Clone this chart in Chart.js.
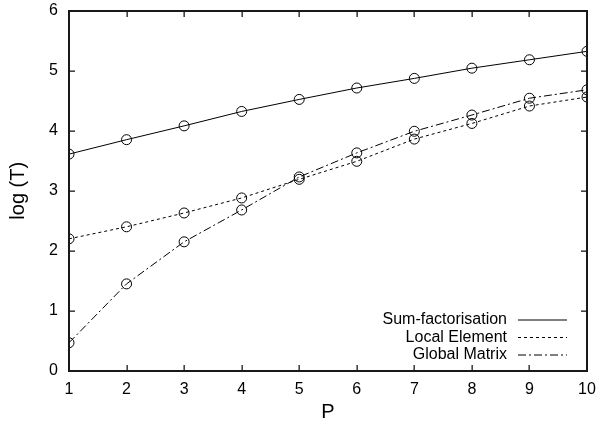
<!DOCTYPE html>
<html>
<head>
<meta charset="utf-8">
<script src="https://cdn.jsdelivr.net/npm/chart.js@4"></script>
<style>
html,body{margin:0;padding:0;background:#fff;}
#wrap{width:602px;height:424px;}
</style>
</head>
<body>
<div id="wrap"><canvas id="c" width="602" height="424"></canvas></div>
<script>
const P = [1, 2, 3, 4, 5, 6, 7, 8, 9, 10];
const sumFactorisation = [3.61, 3.85, 4.08, 4.32, 4.52, 4.71, 4.87, 5.04, 5.18, 5.32];
const localElement = [2.20, 2.40, 2.63, 2.88, 3.19, 3.49, 3.86, 4.12, 4.41, 4.56];
const globalMatrix = [0.47, 1.45, 2.15, 2.68, 3.23, 3.63, 3.99, 4.26, 4.54, 4.68];
const seriesLabels = ['Sum-factorisation', 'Local Element', 'Global Matrix'];
const xTicks = [1, 2, 3, 4, 5, 6, 7, 8, 9, 10];
const yTicks = [0, 1, 2, 3, 4, 5, 6];

const FONT = "'Liberation Sans', Arial, Helvetica, sans-serif";

function toPts(ys) { return P.map((x, i) => ({x: x, y: ys[i]})); }

function ds(label, ys, dash) {
  return {
    label: label,
    data: toPts(ys),
    borderColor: '#000',
    backgroundColor: 'rgba(0,0,0,0)',
    borderWidth: 1,
    borderDash: dash,
    pointStyle: 'circle',
    pointRadius: 5,
    pointBorderWidth: 1,
    pointBorderColor: '#000',
    pointBackgroundColor: 'rgba(0,0,0,0)',
    tension: 0,
    fill: false
  };
}

const framePlugin = {
  id: 'frame',
  afterDraw(chart) {
    const ctx = chart.ctx;
    const xs = chart.scales.x, ys = chart.scales.y;
    const L = Math.round(xs.getPixelForValue(xs.min)), R = Math.round(xs.getPixelForValue(xs.max));
    const B = Math.round(ys.getPixelForValue(ys.min)), T = Math.round(ys.getPixelForValue(ys.max));
    ctx.save();
    ctx.setLineDash([]);
    ctx.globalAlpha = 1;
    ctx.globalCompositeOperation = 'source-over';
    ctx.fillStyle = 'rgb(25,25,25)';
    const w = 2, tl = 6;
    ctx.fillRect(L - 1, T - 1, R - L + w, w);
    ctx.fillRect(L - 1, B - 1, R - L + w, w);
    ctx.fillRect(L - 1, T - 1, w, B - T + w);
    ctx.fillRect(R - 1, T - 1, w, B - T + w);
    xTicks.forEach(v => {
      const px = Math.round(xs.getPixelForValue(v));
      ctx.fillRect(px - 0.5, B - tl, 1.3, tl);
      ctx.fillRect(px - 0.5, T, 1.3, tl);
    });
    yTicks.forEach(v => {
      const py = Math.round(ys.getPixelForValue(v));
      ctx.fillRect(L, py - 0.5, tl, 1.3);
      ctx.fillRect(R - tl, py - 0.5, tl, 1.3);
    });

    // legend (text then line sample), bottom right inside plot
    ctx.font = '16px ' + FONT;
    ctx.fillStyle = '#000';
    ctx.strokeStyle = '#000';
    ctx.textAlign = 'right';
    ctx.textBaseline = 'middle';
    const textRight = 507, lineL = 518, lineR = 567;
    const rowY = [320, 337.5, 355];
    chart.data.datasets.forEach((d, i) => {
      const y = rowY[i];
      ctx.fillText(d.label, textRight, y);
      ctx.beginPath();
      ctx.lineWidth = 1;
      ctx.setLineDash(d.borderDash || []);
      ctx.moveTo(lineL, y); ctx.lineTo(lineR, y);
      ctx.stroke();
    });
    ctx.restore();
  }
};

new Chart(document.getElementById('c'), {
  type: 'line',
  data: {
    datasets: [
      ds(seriesLabels[0], sumFactorisation, []),
      ds(seriesLabels[1], localElement, [3, 3]),
      ds(seriesLabels[2], globalMatrix, [8, 3, 2, 3])
    ]
  },
  options: {
    responsive: false,
    animation: false,
    events: [],
    layout: {padding: {left: 0, right: 15, top: 10.5, bottom: 0}},
    plugins: {legend: {display: false}, tooltip: {enabled: false}},
    scales: {
      x: {
        type: 'linear',
        min: 1, max: 10,
        grid: {display: false, drawTicks: false},
        border: {display: true, color: '#000', width: 1.5},
        afterBuildTicks(s) { s.ticks = xTicks.map(v => ({value: v})); },
        afterFit(s) { s.height = 53; s.paddingLeft = 0; s.paddingRight = 0; },
        ticks: {color: '#000', font: {family: FONT, size: 16}, padding: 9, maxRotation: 0, autoSkip: false},
        title: {display: true, text: 'P', color: '#000', font: {family: FONT, size: 20}, padding: {top: 0, bottom: 0}}
      },
      y: {
        type: 'linear',
        min: 0, max: 6,
        grid: {display: false, drawTicks: false},
        border: {display: true, color: '#000', width: 1.5},
        afterBuildTicks(s) { s.ticks = yTicks.map(v => ({value: v})); },
        afterFit(s) { s.width = 69; s.paddingTop = 0; s.paddingBottom = 0; },
        ticks: {color: '#000', font: {family: FONT, size: 16}, padding: 11, autoSkip: false},
        title: {display: true, text: 'log (T)', color: '#000', font: {family: FONT, size: 20}, padding: {top: 6, bottom: 0}}
      }
    }
  },
  plugins: [framePlugin]
});
</script>
</body>
</html>
